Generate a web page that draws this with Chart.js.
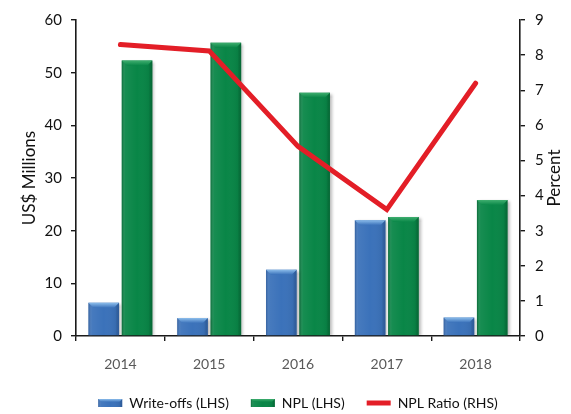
<!DOCTYPE html>
<html>
<head>
<meta charset="utf-8">
<script src="https://cdn.jsdelivr.net/npm/chart.js@4/dist/chart.umd.min.js"></script>
<style>
  html, body { margin: 0; padding: 0; background: #ffffff; }
  #wrap { width: 571px; height: 414px; position: relative; }
</style>
</head>
<body>
<div id="wrap"><canvas id="chart" width="571" height="414"></canvas></div>
<script>
// Loan quality figures by year
const years = ['2014', '2015', '2016', '2017', '2018'];
const writeOffs = [6.3, 3.4, 12.6, 22.0, 3.5];      // US$ millions
const npl = [52.3, 55.7, 46.2, 22.6, 25.8];         // US$ millions
const nplRatio = [8.3, 8.12, 5.4, 3.6, 7.2];        // percent
const leftTicks = { min: 0, max: 60, step: 10 };
const rightTicks = { min: 0, max: 9, step: 1 };

const FONT = 'Lato, "Open Sans", sans-serif';

const palette = {
  blue:  { body: '#3b72ba', dark: 'rgba(20,50,100,0.35)', bevel: '#8cbdeb' },
  green: { body: '#098647', dark: 'rgba(0,50,20,0.35)',  bevel: '#3fae6f' }
};

// Soft drop shadow behind the bar datasets
const barShadow = {
  id: 'barShadow',
  beforeDatasetDraw(chart, args) {
    if (args.meta.type !== 'bar') return;
    const ctx = chart.ctx;
    ctx.save();
    ctx.shadowColor = 'rgba(0,0,0,0.30)';
    ctx.shadowBlur = 3;
    ctx.shadowOffsetX = 2;
    ctx.shadowOffsetY = 1;
  },
  afterDatasetDraw(chart, args) {
    if (args.meta.type !== 'bar') return;
    chart.ctx.restore();
  }
};

// Bevelled top and shaded sides on a bar-shaped rectangle
function bevelRect(ctx, left, top, w, h, pal, bev) {
  const g = ctx.createLinearGradient(left, 0, left + w, 0);
  g.addColorStop(0, pal.dark);
  g.addColorStop(0.12, 'rgba(255,255,255,0.06)');
  g.addColorStop(0.5, 'rgba(255,255,255,0.0)');
  g.addColorStop(0.88, 'rgba(0,0,0,0.05)');
  g.addColorStop(1, pal.dark);
  ctx.fillStyle = g;
  ctx.fillRect(left, top, w, h);
  const b = Math.min(bev, h / 2, w / 3);
  ctx.beginPath();
  ctx.moveTo(left, top);
  ctx.lineTo(left + w, top);
  ctx.lineTo(left + w - b, top + b);
  ctx.lineTo(left + b, top + b);
  ctx.closePath();
  const tg = ctx.createLinearGradient(0, top, 0, top + b);
  tg.addColorStop(0, pal.bevel);
  tg.addColorStop(1, pal.body);
  ctx.fillStyle = tg;
  ctx.fill();
}

// Applies the bevel to every bar (geometry comes from Chart.js) and to the legend swatches
const barBevel = {
  id: 'barBevel',
  afterDatasetDraw(chart, args) {
    const meta = args.meta;
    if (meta.type !== 'bar') return;
    const pal = chart.data.datasets[args.index].palette;
    const ctx = chart.ctx;
    ctx.save();
    meta.data.forEach(el => {
      const { x, y, width, base } = el.getProps(['x', 'y', 'width', 'base'], true);
      bevelRect(ctx, x - width / 2, y, width, base - y, pal, 5);
    });
    ctx.restore();
  },
  afterDraw(chart) {
    const legend = chart.legend;
    if (!legend || !legend.legendHitBoxes) return;
    const ctx = chart.ctx;
    ctx.save();
    legend.legendItems.forEach((item, i) => {
      const ds = chart.data.datasets[item.datasetIndex];
      if (!ds.palette) return;
      const hb = legend.legendHitBoxes[i];
      const cy = hb.top + legend.options.labels.font.size / 2;
      bevelRect(ctx, hb.left, cy - 4, 24, 8, ds.palette, 3);
    });
    ctx.restore();
  }
};

// Right-hand axis title, reading bottom to top like the left one
const rightTitle = {
  id: 'rightTitle',
  afterDraw(chart) {
    const ctx = chart.ctx;
    const area = chart.chartArea;
    ctx.save();
    ctx.translate(555, (area.top + area.bottom) / 2);
    ctx.rotate(-Math.PI / 2);
    ctx.font = '17px ' + FONT;
    ctx.fillStyle = '#111111';
    ctx.textAlign = 'center';
    ctx.textBaseline = 'middle';
    ctx.fillText('Percent', 0, 0);
    ctx.restore();
  }
};

const axisLine = { display: true, color: '#1a1a1a', width: 1.6 };
const tickMarks = { drawOnChartArea: false, drawTicks: true, tickLength: 5, color: '#1a1a1a', lineWidth: 1.4 };

new Chart(document.getElementById('chart'), {
  data: {
    labels: years,
    datasets: [
      {
        type: 'bar',
        label: 'Write-offs (LHS)',
        data: writeOffs,
        yAxisID: 'y',
        backgroundColor: palette.blue.body,
        palette: palette.blue,
        borderWidth: 0,
        pointStyle: 'rect',
        categoryPercentage: 0.75,
        barPercentage: 0.92,
        order: 1
      },
      {
        type: 'bar',
        label: 'NPL (LHS)',
        data: npl,
        yAxisID: 'y',
        backgroundColor: palette.green.body,
        palette: palette.green,
        borderWidth: 0,
        pointStyle: 'rect',
        categoryPercentage: 0.75,
        barPercentage: 0.92,
        order: 1
      },
      {
        type: 'line',
        label: 'NPL Ratio (RHS)',
        data: nplRatio,
        yAxisID: 'y1',
        borderColor: '#e31e27',
        backgroundColor: '#e31e27',
        borderWidth: 5,
        borderCapStyle: 'round',
        borderJoinStyle: 'miter',
        pointRadius: 0,
        pointHoverRadius: 0,
        pointStyle: 'line',
        tension: 0,
        order: 0
      }
    ]
  },
  options: {
    responsive: false,
    animation: false,
    layout: { padding: { top: 20, right: 0, bottom: -6, left: 0 } },
    plugins: {
      tooltip: { enabled: false },
      legend: {
        position: 'bottom',
        fullSize: false,
        labels: {
          font: { family: FONT, size: 14 },
          color: '#111111',
          padding: 22,
          usePointStyle: true,
          pointStyleWidth: 24,
          boxHeight: 8,
          sort: (a, b) => a.datasetIndex - b.datasetIndex
        }
      }
    },
    scales: {
      x: {
        type: 'category',
        offset: true,
        grid: Object.assign({ offset: true }, tickMarks),
        border: axisLine,
        ticks: { font: { family: FONT, size: 14 }, color: '#595959', padding: 15 },
        afterFit(scale) { scale.height = 38; }
      },
      y: {
        position: 'left',
        min: leftTicks.min,
        max: leftTicks.max,
        grid: tickMarks,
        border: axisLine,
        ticks: { stepSize: leftTicks.step, font: { family: FONT, size: 15 }, color: '#111111', padding: 9 },
        title: { display: true, text: 'US$ Millions', font: { family: FONT, size: 17 }, color: '#111111', padding: { top: 19, bottom: 0 } },
        afterFit(scale) { scale.width = 76; }
      },
      y1: {
        position: 'right',
        min: rightTicks.min,
        max: rightTicks.max,
        grid: tickMarks,
        border: axisLine,
        ticks: { stepSize: rightTicks.step, font: { family: FONT, size: 15 }, color: '#111111', padding: 10 },
        afterFit(scale) { scale.width = 51; }
      }
    }
  },
  plugins: [barShadow, barBevel, rightTitle]
});
</script>
</body>
</html>
